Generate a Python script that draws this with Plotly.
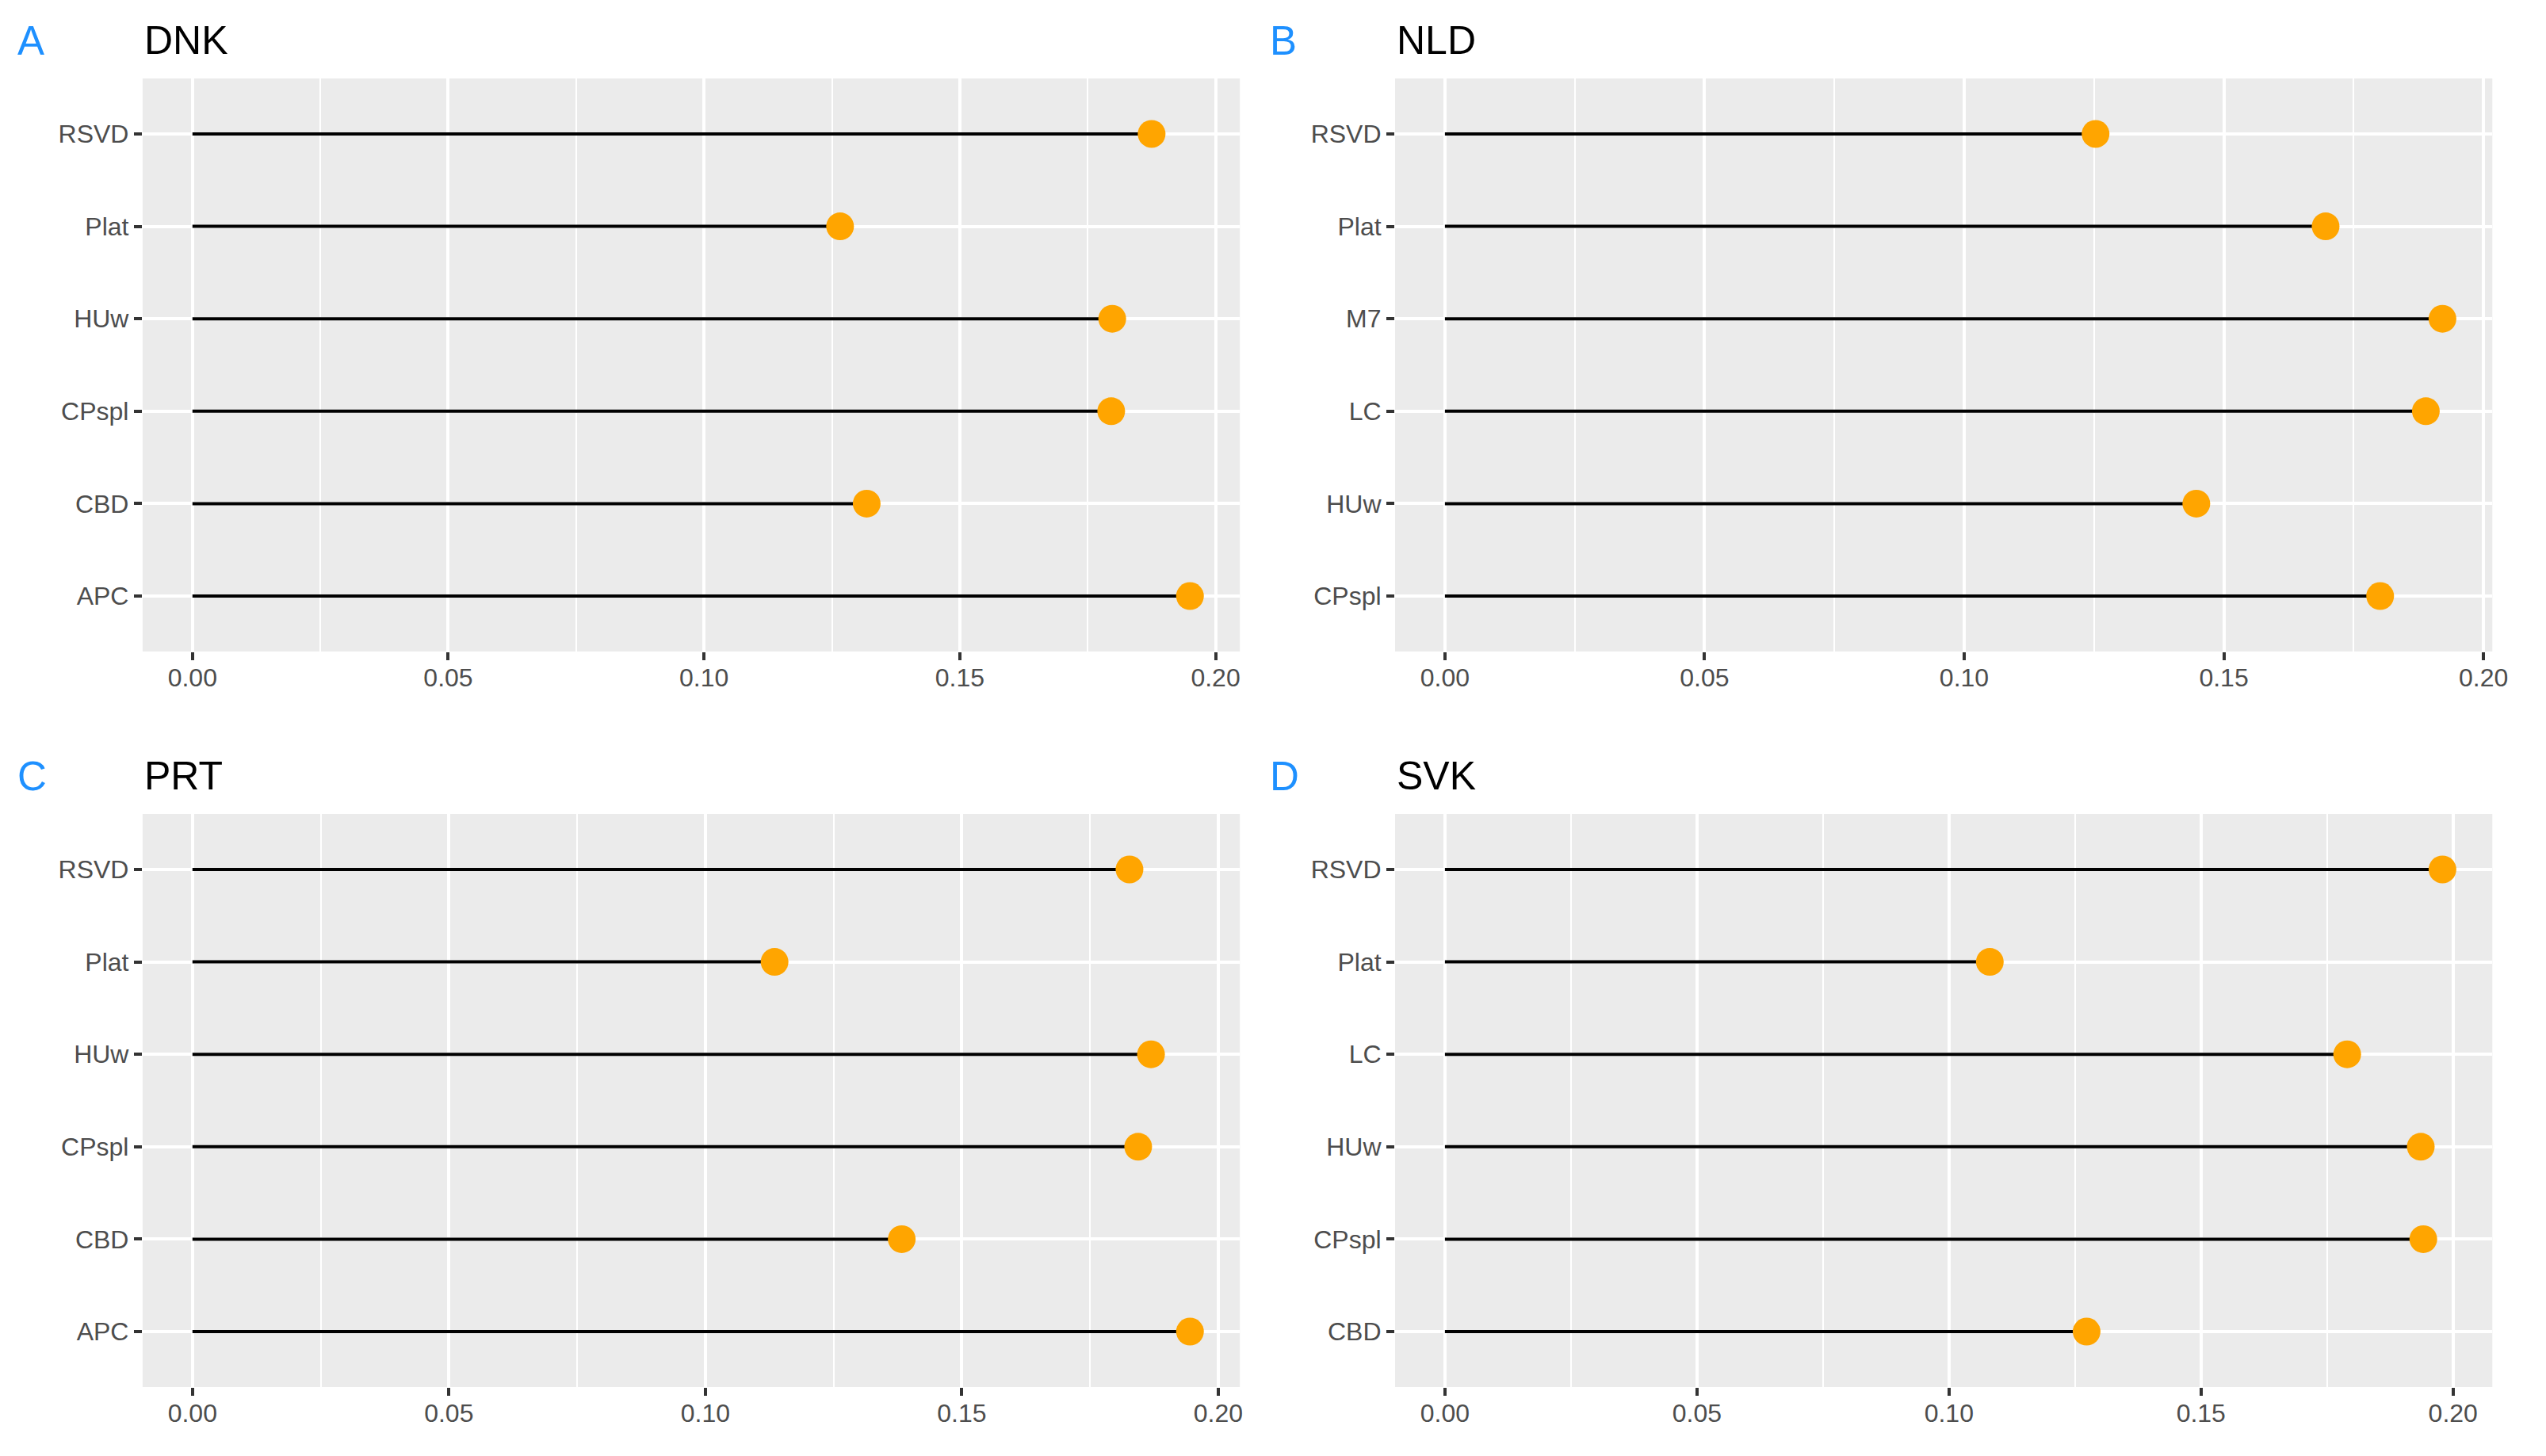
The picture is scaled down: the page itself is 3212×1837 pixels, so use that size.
import plotly.graph_objects as go

# ---- data (categories listed bottom -> top, as in the reference) ----
dnk_models = ["APC", "CBD", "CPspl", "HUw", "Plat", "RSVD"]
dnk_values = [0.1950, 0.1318, 0.1796, 0.1798, 0.1266, 0.1875]

nld_models = ["CPspl", "HUw", "LC", "M7", "Plat", "RSVD"]
nld_values = [0.1801, 0.1447, 0.1889, 0.1921, 0.1696, 0.1253]

prt_models = ["APC", "CBD", "CPspl", "HUw", "Plat", "RSVD"]
prt_values = [0.1945, 0.1383, 0.1844, 0.1869, 0.1135, 0.1827]

svk_models = ["CBD", "CPspl", "HUw", "LC", "Plat", "RSVD"]
svk_values = [0.1273, 0.1941, 0.1936, 0.1790, 0.1081, 0.1979]

panel_titles = ["DNK", "NLD", "PRT", "SVK"]
panel_letters = ["A", "B", "C", "D"]
x_tick_values = [0.00, 0.05, 0.10, 0.15, 0.20]
x_tick_labels = ["0.00", "0.05", "0.10", "0.15", "0.20"]

panels = [
    (dnk_models, dnk_values),
    (nld_models, nld_values),
    (prt_models, prt_values),
    (svk_models, svk_values),
]

# ---- layout geometry (pixels of a 3212 x 1837 page) ----
W, H = 3212, 1837
col_px = [(181, 1574), (1771, 3164)]
row_px = [(99, 822), (1027, 1750)]
FONT = "Liberation Sans, Arial, sans-serif"

fig = go.Figure()
layout = dict(
    width=W, height=H,
    margin=dict(l=0, r=0, t=0, b=0),
    paper_bgcolor="white",
    plot_bgcolor="#EBEBEB",
    showlegend=False,
    font=dict(family=FONT),
)

annotations = []
for i, (models, vals) in enumerate(panels):
    r, c = divmod(i, 2)
    n = "" if i == 0 else str(i + 1)
    xa, ya = "x" + n, "y" + n

    # segments from 0 to value
    seg_x, seg_y = [], []
    for m, v in zip(models, vals):
        seg_x += [0, v, None]
        seg_y += [m, m, None]
    fig.add_trace(go.Scatter(x=seg_x, y=seg_y, mode="lines",
                             line=dict(color="black", width=4),
                             xaxis=xa, yaxis=ya, hoverinfo="skip"))
    fig.add_trace(go.Scatter(x=vals, y=models, mode="markers",
                             marker=dict(color="#FFA500", size=35,
                                         line=dict(width=0)),
                             xaxis=xa, yaxis=ya))

    mx = max(vals)
    x0, x1 = col_px[c]
    y0, y1 = row_px[r]
    layout["xaxis" + n] = dict(
        domain=[x0 / W, x1 / W],
        anchor=ya,
        range=[-0.05 * mx, 1.05 * mx],
        tickvals=x_tick_values, ticktext=x_tick_labels,
        showgrid=True, gridcolor="white", gridwidth=3.5,
        minor=dict(showgrid=True, gridcolor="white", gridwidth=1.8,
                   tick0=0.025, dtick=0.05, ticks=""),
        zeroline=False, showline=False,
        ticks="outside", ticklen=10, tickwidth=3.7, tickcolor="#333333",
        ticklabelstandoff=-5,
        tickfont=dict(size=32, color="#4D4D4D", family=FONT),
        fixedrange=True,
    )
    layout["yaxis" + n] = dict(
        domain=[1 - y1 / H, 1 - y0 / H],
        anchor=xa,
        type="category",
        categoryorder="array", categoryarray=models,
        range=[-0.6, len(models) - 0.4],
        showgrid=True, gridcolor="white", gridwidth=3.5,
        zeroline=False, showline=False,
        ticks="outside", ticklen=10, tickwidth=3.7, tickcolor="#333333",
        tickfont=dict(size=32, color="#4D4D4D", family=FONT),
        fixedrange=True,
    )

    # panel title and letter
    cap_mid = y0 - 48
    annotations.append(dict(
        text=panel_titles[i], xref="paper", yref="paper",
        x=x0 / W, y=1 - cap_mid / H, xanchor="left", yanchor="middle",
        showarrow=False, font=dict(size=50, color="black", family=FONT)))
    annotations.append(dict(
        text=panel_letters[i], xref="paper", yref="paper",
        x=(x0 - 161) / W, y=1 - cap_mid / H, xanchor="left", yanchor="middle",
        showarrow=False, font=dict(size=51, color="#1E90FF", family=FONT)))

layout["annotations"] = annotations
fig.update_layout(**layout)
fig.write_html("out.html",
               config={"displayModeBar": False},
               post_script="document.body.style.margin='0px';"
                           "document.body.style.overflow='hidden';")
